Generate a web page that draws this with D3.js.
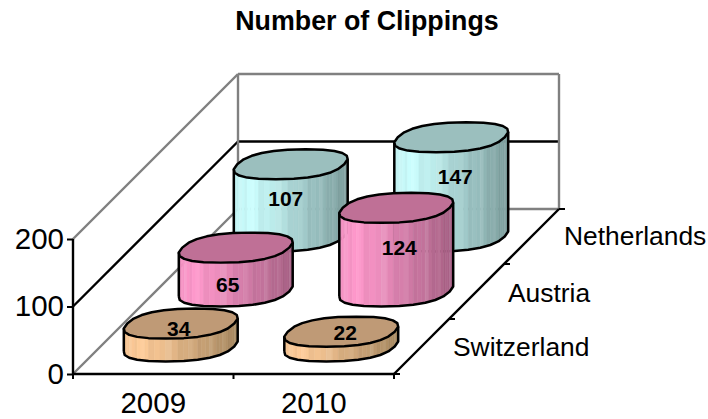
<!DOCTYPE html>
<html lang="en">
<head>
<meta charset="UTF-8">
<title>Number of Clippings</title>
<script src="https://d3js.org/d3.v7.min.js"></script>
<style>
  html, body { margin: 0; background: #fff; }
  text { font-family: "Liberation Sans", Arial, sans-serif; fill: #000; }
</style>
</head>
<body>
<script>
const years = ["2009", "2010"];
const countries = ["Switzerland", "Austria", "Netherlands"];
const switzerland = [34, 22];
const austria = [65, 124];
const netherlands = [107, 147];
const valueTicks = [0, 100, 200];

const w = 708, h = 419;
const left = 73, right = 394, bottom = 374;
const depthX = 165, depthY = 165;

const svg = d3.select("body").append("svg")
  .attr("width", w).attr("height", h)
  .style("display", "block");

const x = d3.scaleBand().domain(years).range([left, right]);
const rise = d3.scaleLinear().domain([0, 200]).range([0, 135]);
const yAxisScale = d3.scaleLinear().domain([0, 200]).range([bottom, bottom - 135]);
const depth = d3.scaleBand().domain(countries).range([0, 1]);

// floor/wall position -> screen
const project = (xp, d, v) => [xp + d * depthX, bottom - d * depthY - rise(v)];
const line = (g, a, b, color, width = 2) => g.append("line")
  .attr("x1", a[0]).attr("y1", a[1]).attr("x2", b[0]).attr("y2", b[1])
  .attr("stroke", color).attr("stroke-width", width);

// title
svg.append("text").attr("x", 367).attr("y", 30)
  .attr("text-anchor", "middle").attr("font-size", 26.8).attr("font-weight", "bold")
  .text("Number of Clippings");

// walls and gridlines
const grid = svg.append("g");
valueTicks.forEach(v => {
  const color = v === 100 ? "#000" : "#808080";
  line(grid, project(left, 0, v), project(left, 1, v), color, 2.4);
  line(grid, project(left, 1, v), project(right, 1, v), color, 2.4);
});
line(grid, project(left, 1, 0), project(left, 1, 200), "#808080", 2.4);
line(grid, project(right, 1, 0), project(right, 1, 200), "#808080", 2.4);

// axes
const yAxis = svg.append("g").attr("transform", `translate(${left},0)`)
  .call(d3.axisLeft(yAxisScale).tickValues(valueTicks).tickSize(6).tickPadding(3));
const xAxis = svg.append("g").attr("transform", `translate(0,${bottom})`)
  .call(d3.axisBottom(x).tickSize(0).tickPadding(18));
[yAxis, xAxis].forEach(g => {
  g.selectAll("path").attr("stroke", "#000").attr("stroke-width", 2.4);
  g.selectAll("line").attr("stroke", "#000").attr("stroke-width", 2);
  g.selectAll("text").attr("font-size", 29.5).attr("font-family", '"Liberation Sans", Arial, sans-serif');
});
yAxis.select("path").attr("d", `M0,${yAxisScale(200)}V${bottom}`);
xAxis.select("path").attr("d", `M${left},0H${right}`);
xAxis.selectAll(".boundary").data(d3.range(years.length + 1)).enter().append("line")
  .attr("x1", i => left + i * x.bandwidth()).attr("x2", i => left + i * x.bandwidth())
  .attr("y1", 0).attr("y2", 5)
  .attr("stroke", "#000").attr("stroke-width", 2);

// depth axis
const depthAxis = svg.append("g");
line(depthAxis, project(right, 0, 0), project(right, 1, 0), "#000", 2.4);
d3.range(countries.length + 1).forEach(i => {
  const p = project(right, i / countries.length, 0);
  line(depthAxis, p, [p[0] + 6, p[1]], "#000");
});
const depthLabelX = { Switzerland: 453, Austria: 508, Netherlands: 564 };
const depthLabelY = { Switzerland: 356, Austria: 302, Netherlands: 245 };
countries.forEach(c => {
  depthAxis.append("text").attr("x", depthLabelX[c]).attr("y", depthLabelY[c])
    .attr("font-size", 26.4).text(c);
});

// cylinders, back row first
const rows = [
  { name: "Netherlands", values: netherlands, top: "#9bbfbe", light: "#ccffff", dark: "#7b9c9b" },
  { name: "Austria", values: austria, top: "#bf7096", light: "#ff99cc", dark: "#a55f83" },
  { name: "Switzerland", values: switzerland, top: "#bf9a76", light: "#ffcc99", dark: "#a5875f" }
];
const labelNudge = { 107: [-5, -2], 147: [4, -10], 124: [3, -2], 65: [-8, 15], 34: [-2, -7], 22: [4, -7] };

const radiusX = 53.5, radiusD = 15;
const segments = 24;
// slightly squared-off circle on the floor plane, as the faceted 3D shapes look
const soft = a => Math.sign(a) * Math.pow(Math.abs(a), 0.82);
const ring = (cx, cy) => d3.range(segments + 1).map(k => {
  const t = k * 2 * Math.PI / segments;
  const c = soft(Math.cos(t)), s = soft(Math.sin(t));
  const px = radiusX * c, pd = radiusD * s;
  return [cx + px + pd, cy - pd];
});
const stripe = [0, 0.06, 0, -0.04, 0, 0, 0.1, 0, -0.03];

const cylinders = svg.append("g");
rows.forEach(row => {
  row.values.forEach((v, i) => {
    const xp = x(years[i]) + x.bandwidth() / 2;
    const d = depth(row.name) + depth.bandwidth() / 2;
    const [fx, fy] = project(xp, d, 0);
    const ty = fy - rise(v);
    const g = cylinders.append("g");

    // front half of the ring, between the leftmost and rightmost points
    const pts = ring(fx, fy).slice(0, segments);
    const iLeft = d3.leastIndex(pts, (a, b) => a[0] - b[0]);
    const iRight = d3.leastIndex(pts, (a, b) => b[0] - a[0]);
    const front = [];
    for (let k = iLeft; ; k = (k + 1) % segments) {
      front.push(pts[k]);
      if (k === iRight) break;
    }
    const shade = d3.scaleLinear()
      .domain([0, 0.14, 1])
      .range([d3.interpolateRgb(row.light, row.dark)(0.12), row.light, row.dark]);
    const fine = [];
    d3.pairs(front).forEach(([a, b]) => {
      d3.range(3).forEach(s => {
        const u0 = s / 3, u1 = (s + 1) / 3;
        fine.push([
          [a[0] + (b[0] - a[0]) * u0, a[1] + (b[1] - a[1]) * u0],
          [a[0] + (b[0] - a[0]) * u1, a[1] + (b[1] - a[1]) * u1]
        ]);
      });
    });
    fine.forEach(([a, b], k) => {
      const frac = (a[0] - front[0][0]) / (front[front.length - 1][0] - front[0][0]);
      const base = d3.color(shade(frac));
      const amt = stripe[k % stripe.length];
      const col = amt >= 0 ? d3.interpolateRgb(base, "#fff")(amt) : d3.interpolateRgb(base, "#000")(-amt);
      g.append("path")
        .attr("d", `M${a}L${b}L${b[0]},${b[1] - (fy - ty)}L${a[0]},${a[1] - (fy - ty)}Z`)
        .attr("fill", col).attr("stroke", col).attr("stroke-width", 0.6);
    });

    // side outline
    const first = front[0], last = front[front.length - 1];
    g.append("path")
      .attr("d", d3.line()(front) + `L${last[0]},${last[1] - (fy - ty)}M${first}L${first[0]},${first[1] - (fy - ty)}`)
      .attr("fill", "none").attr("stroke", "#000").attr("stroke-width", 2.5).attr("stroke-linejoin", "round");

    // top cap
    g.append("path")
      .attr("d", d3.line()(ring(fx, ty)) + "Z")
      .attr("fill", row.top).attr("stroke", "#000").attr("stroke-width", 2.5).attr("stroke-linejoin", "round");

    // value label
    const nudge = labelNudge[v];
    g.append("text")
      .attr("x", fx + nudge[0]).attr("y", (fy + ty) / 2 + nudge[1])
      .attr("text-anchor", "middle").attr("dominant-baseline", "central")
      .attr("font-size", 21).attr("font-weight", "bold").text(v);
  });
});
</script>
</body>
</html>
